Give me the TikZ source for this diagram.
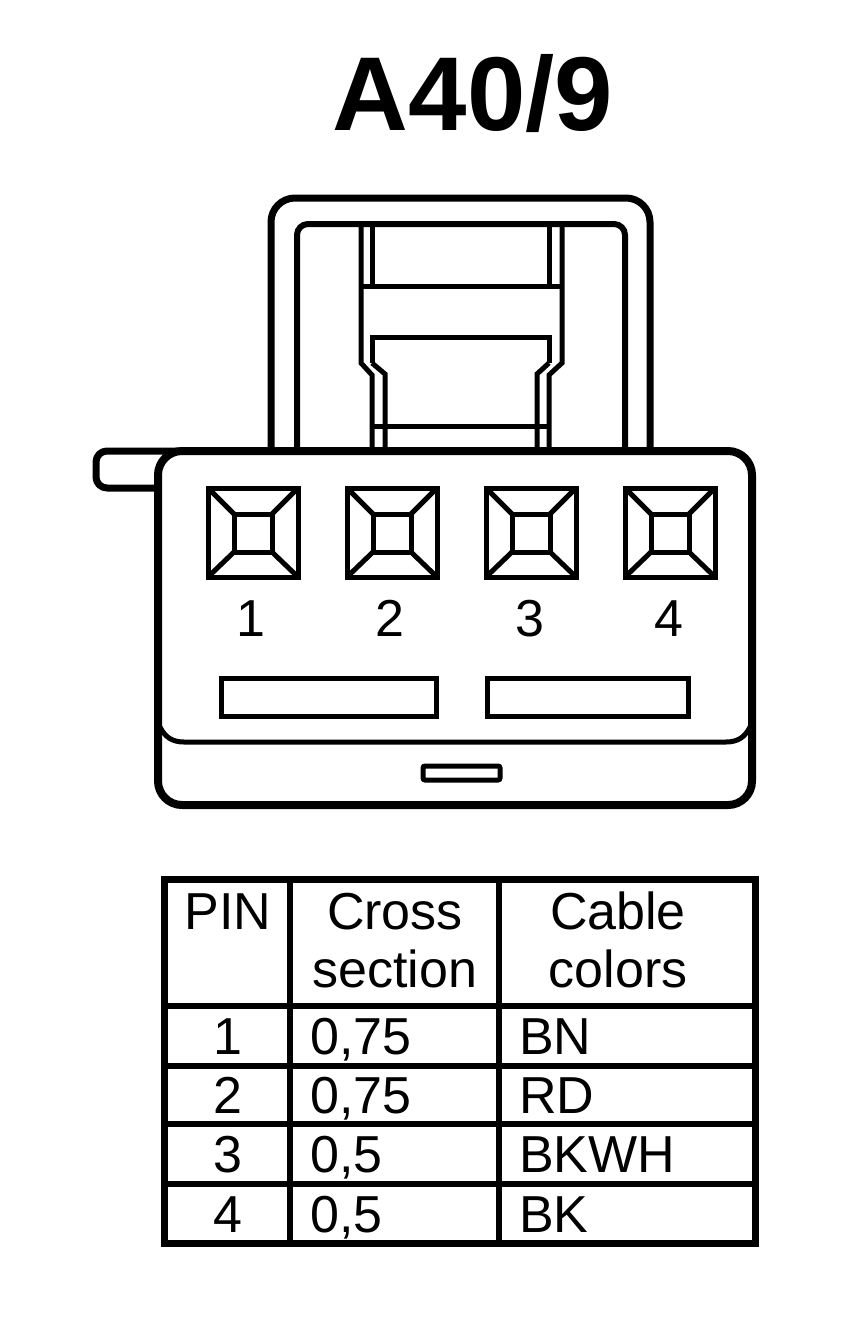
\documentclass[tikz,border=0pt]{standalone}
\usepackage{fontspec}
\setmainfont{Liberation Sans}
\tikzset{
  thick line/.style={line width=7pt,line join=round},
  med line/.style={line width=5pt,line join=miter},
  pinbox/.style={line width=5pt,draw},
  txt/.style={font=\fontsize{52}{52}\selectfont,inner sep=0pt,anchor=base},
  ltxt/.style={font=\fontsize{52}{52}\selectfont,inner sep=0pt,anchor=base west},
  tline/.style={line width=5.5pt},
  touter/.style={line width=7pt}
}
\newcommand{\pinsq}[1]{%
  \begin{scope}[xshift=#1pt]
    \draw[pinbox] (208,488) rectangle (298,577);
    \draw[pinbox] (234,514) rectangle (272,552);
    \draw[line width=5pt] (208,488)--(234,514) (298,488)--(272,514) (208,577)--(234,552) (298,577)--(272,552);
  \end{scope}}
\begin{document}
\begin{tikzpicture}[x=1pt,y=-1pt]
\useasboundingbox (0,0) rectangle (864,1320);
\node[inner sep=0pt,anchor=base,font=\bfseries\fontsize{105}{105}\selectfont] (title) at (473,130) {A40/9};
% handle
\draw[thick line,rounded corners=24pt] (271,451)--(271,198)--(650,198)--(650,451);
\draw[med line,line width=6pt,rounded corners=11pt] (297,451)--(297,224)--(625,224)--(625,451);
% latch
\draw[med line] (361,224)--(361,363)--(372,375)--(372,451);
\draw[med line] (562,224)--(562,363)--(549,375)--(549,451);
\draw[med line] (372,224)--(372,286);
\draw[med line] (549,224)--(549,286);
\draw[med line] (361,286)--(562,286);
\draw[med line] (372,363)--(372,337)--(549,337)--(549,363);
\draw[med line] (372,363)--(385,374)--(385,451);
\draw[med line] (549,363)--(537,374)--(537,451);
\draw[med line] (372,426)--(549,426);
% tab
\draw[thick line,rounded corners=11pt] (170,488)--(96,488)--(96,451)--(190,451);
% body
\draw[line width=8pt,line join=round,fill=white,rounded corners=24pt] (158,451) rectangle (752,805);
\draw[med line] (160,727) .. controls (165,737) and (172,742) .. (184,742) -- (726,742) .. controls (738,742) and (745,737) .. (750,727);
\pinsq{0}\pinsq{139}\pinsq{278}\pinsq{417}
\node[txt] (p1) at (251,636) {1};
\node[txt] (p2) at (390,636) {2};
\node[txt] (p3) at (530,636) {3};
\node[txt] (p4) at (669,636) {4};
\draw[pinbox] (221,678) rectangle (436,716);
\draw[pinbox] (487,678) rectangle (688,716);
\draw[line width=5pt,rounded corners=2pt] (423,766) rectangle (500,780);
% table
\draw[tline] (164,1006)--(755,1006) (164,1066)--(755,1066) (164,1124)--(755,1124) (164,1184)--(755,1184);
\draw[tline] (290,878)--(290,1243) (499,878)--(499,1243);
\draw[touter] (164.5,879) rectangle (755.5,1243.5);
\node[txt] (h1) at (228,929) {PIN};
\node[txt] (h2) at (395,929) {Cross};
\node[txt] (h2b) at (395,987) {section};
\node[txt] (h3) at (618,929) {Cable};
\node[txt] (h3b) at (618,987) {colors};
\node[txt] (r1) at (228,1054) {1};
\node[ltxt] (r1a) at (310,1054) {0,75};
\node[ltxt] (r1b) at (519,1054) {BN};
\node[txt] (r2) at (228,1113) {2};
\node[ltxt] (r2a) at (310,1113) {0,75};
\node[ltxt] (r2b) at (519,1113) {RD};
\node[txt] (r3) at (228,1172) {3};
\node[ltxt] (r3a) at (310,1172) {0,5};
\node[ltxt] (r3b) at (519,1172) {BKWH};
\node[txt] (r4) at (228,1232) {4};
\node[ltxt] (r4a) at (310,1232) {0,5};
\node[ltxt] (r4b) at (519,1232) {BK};
\end{tikzpicture}
\end{document}
